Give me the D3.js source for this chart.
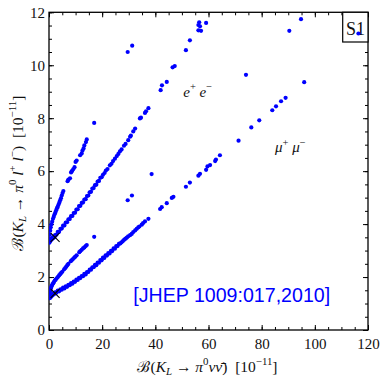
<!DOCTYPE html>
<html><head><meta charset="utf-8">
<script src="https://cdn.jsdelivr.net/npm/d3@7"></script>
<style>body{margin:0;background:#fff}text{white-space:pre}</style>
</head><body><svg id="c" width="381" height="377"></svg>
<script>
// ---- data ----
const xTicks = [0, 20, 40, 60, 80, 100, 120];
const yTicks = [0, 2, 4, 6, 8, 10, 12];
const xMinor = [0,5,10,15,20,25,30,35,40,45,50,55,60,65,70,75,80,85,90,95,100,105,110,115,120];
const yMinor = [0,0.5,1,1.5,2,2.5,3,3.5,4,4.5,5,5.5,6,6.5,7,7.5,8,8.5,9,9.5,10,10.5,11,11.5,12];

const eeMain = [[0.15,3.30],[0.3,3.35],[0.5,3.36],[0.7,3.42],[0.9,3.41],[1.1,3.47],[1.3,3.45],[1.5,3.5],[1.7,3.48],[1.9,3.54],[2.1,3.51],[2.3,3.58],
[2.8,3.60],[3.3,3.71],[3.8,3.71],[4.3,3.82],[4.8,3.83],[5.3,3.94],[5.8,3.95],[6.3,4.06],[6.8,4.07],[7.3,4.18],[7.8,4.19],[8.3,4.30],[8.8,4.31],[9.3,4.42],[9.8,4.43],[10.3,4.55],[10.8,4.56],[11.3,4.68],[11.8,4.69],[12.3,4.80],[12.8,4.82],[13.3,4.93],[13.8,4.94],[14.3,5.06],[14.8,5.08],[15.3,5.20],[15.8,5.22],[16.3,5.34],[16.8,5.36],[17.3,5.47],[17.8,5.49],[18.3,5.61],[18.8,5.63],[19.3,5.75],[19.8,5.77],
[20.3,5.86],[20.9,5.93],[21.4,6.02],[22.0,6.08],[22.9,6.22],[23.5,6.28],[24.1,6.38],[24.8,6.47],[25.5,6.57],[26.1,6.65],[26.7,6.75],[27.3,6.82],[28.2,6.96],[28.8,7.03],[29.8,7.17],[30.5,7.3],[30.8,7.34],[31.7,7.5],[32.4,7.61],
[34.2,7.99],[34.6,8.02],[36.1,8.2],[36.5,8.26],[37.4,8.38],[42.0,9.06],[42.5,9.24],[44.3,9.37],[46.5,9.92],[47.3,9.97],[51.5,10.57],[53.0,10.94],[56.2,11.32],[57.2,11.3],[56.8,11.47],[56.2,11.52],[56.5,11.62],[59.1,11.6]];

const eeSteep = [[0.2,3.45],[0.3,3.6],[0.45,3.75],[0.65,3.88],[0.9,3.99],[1.2,4.09],[1.5,4.2],[1.8,4.28],[2.1,4.37],[2.4,4.44],[2.7,4.52],[3.0,4.6],[3.3,4.66],[3.6,4.74],[3.9,4.82],[4.2,4.9],[4.5,4.98],[4.8,5.08],[5.1,5.17],[5.4,5.25],
[7.0,5.62],[7.3,5.68],[7.9,5.73],[8.3,5.95],[8.6,6.0],[9.1,6.07],[9.6,6.15],[10.0,6.35],[10.4,6.4],[11.7,6.6],[12.3,6.67],[12.6,6.78],[13.0,6.86],[13.3,6.97],[13.9,7.1],[14.2,7.2],[17.0,7.82],[29.6,10.5],[31.3,10.74]];

const mmMain = [[0.15,1.2],[0.3,1.25],[0.5,1.22],[0.7,1.29],[0.9,1.27],[1.1,1.33],[1.3,1.31],[1.5,1.37],[1.7,1.34],[1.9,1.4],[2.1,1.37],[2.3,1.42],
[2.8,1.41],[3.3,1.49],[3.8,1.46],[4.3,1.54],[4.8,1.52],[5.3,1.60],[5.8,1.57],[6.3,1.65],[6.8,1.63],[7.3,1.71],[7.8,1.69],[8.3,1.77],[8.8,1.75],[9.3,1.83],[9.8,1.82],[10.3,1.90],[10.8,1.89],[11.3,1.97],[11.8,1.96],[12.3,2.04],[12.8,2.03],[13.3,2.12],[13.8,2.10],[14.3,2.19],[14.8,2.19],[15.3,2.28],[15.8,2.28],[16.3,2.37],[16.8,2.37],[17.3,2.46],[17.8,2.45],[18.3,2.55],[18.8,2.54],[19.3,2.64],[19.8,2.63],[20.3,2.73],[20.8,2.72],[21.3,2.82],[21.8,2.81],[22.3,2.90],[22.8,2.89],[23.3,2.99],[23.8,2.98],[24.3,3.08],[24.8,3.07],[25.3,3.17],[25.8,3.17],[26.3,3.25],[26.8,3.27],[27.3,3.31],[27.8,3.36],[28.3,3.41],[28.8,3.45],[29.3,3.49],[29.8,3.54],
[30.5,3.58],[31.1,3.63],[31.7,3.7],[32.4,3.76],[33.0,3.82],[33.6,3.88],[34.0,3.91],[34.9,3.98],[35.4,4.04],[36.1,4.1],[37.4,4.2],
[41.8,4.57],[42.4,4.64],[44.3,4.79],[46.2,4.99],[46.8,5.03],[51.5,5.41],[53.0,5.57],[56.2,5.83],[56.8,5.9],[59.1,6.05],[59.6,6.18],[60.6,6.23],[62.5,6.38],[62.8,6.44],[64.3,6.6],[71.3,7.15],[76.1,7.65],[79.1,7.92],[84.0,8.3],[85.4,8.45],[87.3,8.64],[89.0,8.77],[96.0,9.36],[116.4,11.2]];

const mmSteep = [[0.25,1.36],[0.35,1.44],[0.5,1.5],[0.7,1.57],[0.9,1.63],[1.1,1.68],[1.3,1.73],[1.6,1.77],[1.9,1.82],[2.2,1.87],[2.5,1.9],[2.9,1.95],
[3.4,2.01],[3.8,2.06],[4.2,2.11],[4.6,2.16],[5.0,2.2],
[5.7,2.29],[6.1,2.34],[6.5,2.39],[6.9,2.45],[7.3,2.5],
[8.2,2.6],[8.6,2.64],[9.0,2.68],[9.5,2.73],[9.9,2.77],[10.4,2.82],
[11.4,2.94],[11.8,2.98],[12.3,3.03],[12.8,3.08],[13.3,3.12],[13.8,3.17],[14.2,3.21],
[17.0,3.52],[29.6,4.9],[31.2,5.08],[38.6,5.89],[74.1,9.64],[90.4,11.3],[94.8,11.74]];

const crosses = [[2.3,3.5],[2.3,1.38]];

// ---- drawing ----
const svg = d3.select("#c");
const L = 49, R = 368, T = 12.3, B = 330;
const x = d3.scaleLinear().domain([0,120]).range([L,R]);
const y = d3.scaleLinear().domain([0,12]).range([B,T]);
const serif = "'Liberation Serif','Times New Roman',serif";

function styleAxis(g){
  g.select(".domain").remove();
  g.selectAll("line").attr("stroke","#000").attr("stroke-width",1);
  g.selectAll("text").attr("font-family",serif).attr("font-size",15).attr("fill","#111");
}
// major ticks
svg.append("g").attr("transform",`translate(0,${B})`)
  .call(d3.axisBottom(x).tickValues(xTicks).tickSizeInner(-5).tickSizeOuter(0).tickPadding(8.4).tickFormat(d3.format("d"))).call(styleAxis);
svg.append("g").attr("transform",`translate(${L},0)`)
  .call(d3.axisLeft(y).tickValues(yTicks).tickSizeInner(-5).tickSizeOuter(0).tickPadding(4).tickFormat(d3.format("d"))).call(styleAxis);
svg.append("g").attr("transform",`translate(0,${T})`)
  .call(d3.axisTop(x).tickValues(xTicks).tickSizeInner(-5).tickSizeOuter(0).tickFormat("")).call(styleAxis);
svg.append("g").attr("transform",`translate(${R},0)`)
  .call(d3.axisRight(y).tickValues(yTicks).tickSizeInner(-5).tickSizeOuter(0).tickFormat("")).call(styleAxis);
// minor ticks
svg.append("g").attr("transform",`translate(0,${B})`).call(d3.axisBottom(x).tickValues(xMinor).tickSizeInner(-3).tickSizeOuter(0).tickFormat("")).call(styleAxis);
svg.append("g").attr("transform",`translate(0,${T})`).call(d3.axisTop(x).tickValues(xMinor).tickSizeInner(-3).tickSizeOuter(0).tickFormat("")).call(styleAxis);
svg.append("g").attr("transform",`translate(${L},0)`).call(d3.axisLeft(y).tickValues(yMinor).tickSizeInner(-3).tickSizeOuter(0).tickFormat("")).call(styleAxis);
svg.append("g").attr("transform",`translate(${R},0)`).call(d3.axisRight(y).tickValues(yMinor).tickSizeInner(-3).tickSizeOuter(0).tickFormat("")).call(styleAxis);

// frame
svg.append("rect").attr("x",L).attr("y",T).attr("width",R-L).attr("height",B-T)
  .attr("fill","none").attr("stroke","#000").attr("stroke-width",1.3);

// rich text helper
function rich(g, segs, size){
  const t = g.append("text").attr("font-family",serif).attr("font-size",size).attr("fill","#111");
  let cur = 0;
  segs.forEach(s=>{
    const [txt, f] = s;
    const off = f && f.includes("sub") ? 0.2*size : f && f.includes("sup") ? -0.42*size : 0;
    const ts = t.append("tspan").text(txt).attr("dy", off-cur);
    cur = off;
    if (f && f.includes("i")) ts.attr("font-style","italic");
    if (f && (f.includes("sub")||f.includes("sup"))) ts.attr("font-size", size*0.7);
  });
  return t;
}

// axis titles
const gx = svg.append("g").attr("transform",`translate(${(L+R)/2-1},371.5)`);
rich(gx, [["ℬ("],["K","i"],["L","i sub"],[" → "],["π","i"],["0","sup"],["ν","i"],["ν̄","i"],[")  [10"],["−11","sup"],["]"]], 15.5).attr("text-anchor","middle");
const gy = svg.append("g").attr("transform",`translate(22.5,${(T+B)/2+2}) rotate(-90)`);
rich(gy, [["ℬ("],["K","i"],["L","i sub"],[" → "],["π","i"],["0","sup"],[" "],["l","i"],["+","sup"],[" "],["l","i"],["−","sup"],[")  [10"],["−11","sup"],["]"]], 15.5).attr("text-anchor","middle");

// annotations
const ge = svg.append("g").attr("transform",`translate(${x(50.5)},${y(8.81)})`);
rich(ge, [["e","i"],["+","sup"],[" "],["e","i"],["−","sup"]], 15);
const gm = svg.append("g").attr("transform",`translate(${x(85)},${y(6.73)})`);
rich(gm, [["μ","i"],["+","sup"],[" "],["μ","i"],["−","sup"]], 15);

// S1 box
svg.append("rect").attr("x",342.7).attr("y",T).attr("width",R-342.7).attr("height",42-T)
  .attr("fill","#fff").attr("stroke","#000").attr("stroke-width",1.2);
svg.append("text").attr("x",355.4).attr("y",34.5).attr("text-anchor","middle")
  .attr("font-family",serif).attr("font-size",18).attr("fill","#111").text("S1");

// reference text
svg.append("text").attr("x",133.3).attr("y",301.7).attr("font-family","'Liberation Sans',Arial,sans-serif")
  .attr("font-size",19.6).attr("fill","#0000ff").text("[JHEP 1009:017,2010]");

// points
svg.append("clipPath").attr("id","pc").append("rect").attr("x",L).attr("y",T).attr("width",R-L).attr("height",B-T);
const gp = svg.append("g").attr("clip-path","url(#pc)");
[eeMain, eeSteep, mmMain, mmSteep].forEach(series=>{
  gp.append("g").selectAll("circle").data(series).join("circle")
    .attr("cx",d=>x(d[0])).attr("cy",d=>y(d[1])).attr("r",2.1).attr("fill","#0000ff");
});

// crosses
const cs = 4.5;
crosses.forEach(c=>{
  const cx = x(c[0]), cy = y(c[1]);
  svg.append("path").attr("d",`M${cx-cs},${cy-cs}L${cx+cs},${cy+cs}M${cx-cs},${cy+cs}L${cx+cs},${cy-cs}`)
    .attr("stroke","#000").attr("stroke-width",1.1).attr("fill","none");
});
</script></body></html>
